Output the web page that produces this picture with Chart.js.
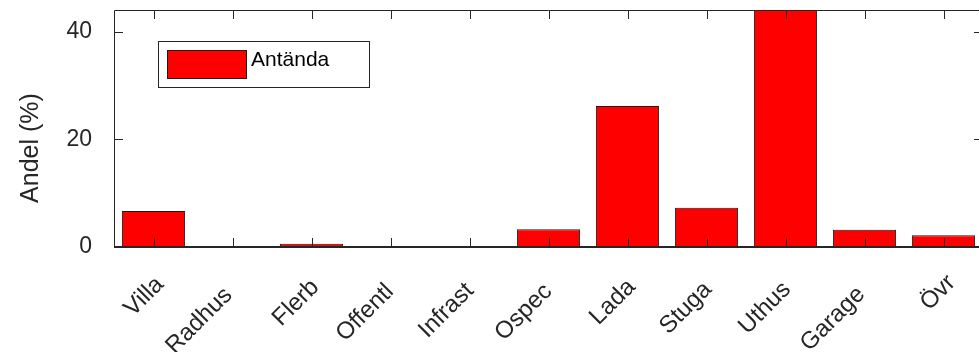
<!DOCTYPE html>
<html>
<head>
<meta charset="utf-8">
<script src="https://cdn.jsdelivr.net/npm/chart.js@4/dist/chart.umd.min.js"></script>
<style>
  html, body { margin: 0; padding: 0; background: #fff; overflow: hidden; }
  #wrap { width: 979px; height: 352px; overflow: hidden; }
</style>
</head>
<body>
<div id="wrap"><canvas id="myChart" width="990" height="352"></canvas></div>
<script>
var categories = ["Villa", "Radhus", "Flerb", "Offentl", "Infrast", "Ospec", "Lada", "Stuga", "Uthus", "Garage", "Övr"];
var antanda = [6.7, 0, 0.6, 0, 0, 3.3, 26.2, 7.3, 44, 3.2, 2.2];
var yTicks = [0, 20, 40];
var yMax = 44;
var seriesLabel = "Antända";
var yTitle = "Andel (%)";

var axisColor = "#262626";
var fontFamily = "'Liberation Sans', Arial, Helvetica, sans-serif";

// box, inward ticks, rotated category labels, legend and y title
var matlabAxes = {
    id: "matlabAxes",
    afterDatasetsDraw(chart) {
        var ctx = chart.ctx;
        var a = chart.chartArea;
        var xs = chart.scales.x, ys = chart.scales.y;
        var tl = 9;
        ctx.save();
        ctx.strokeStyle = axisColor;
        ctx.lineWidth = 1;
        ctx.beginPath();
        ctx.moveTo(a.left + 0.5, a.bottom);
        ctx.lineTo(a.left + 0.5, a.top + 0.5);
        ctx.lineTo(a.right - 0.5, a.top + 0.5);
        ctx.lineTo(a.right - 0.5, a.bottom);
        // x ticks, bottom and top
        for (var i = 0; i < categories.length; i++) {
            var px = Math.round(xs.getPixelForTick(i)) + 0.5;
            ctx.moveTo(px, a.bottom);
            ctx.lineTo(px, a.bottom - tl);
            ctx.moveTo(px, a.top);
            ctx.lineTo(px, a.top + tl);
        }
        // y ticks, left and right
        yTicks.forEach(function(v) {
            var py = Math.round(ys.getPixelForValue(v)) + 0.5;
            ctx.moveTo(a.left, py);
            ctx.lineTo(a.left + tl, py);
            ctx.moveTo(a.right, py);
            ctx.lineTo(a.right - tl, py);
        });
        ctx.stroke();
        // baseline / bottom axis
        ctx.lineWidth = 2;
        ctx.beginPath();
        ctx.moveTo(a.left, a.bottom);
        ctx.lineTo(a.right, a.bottom);
        ctx.stroke();

        // category labels at 45 deg, longer ones sit a bit lower-left
        ctx.fillStyle = axisColor;
        ctx.font = "24px " + fontFamily;
        ctx.textAlign = "right";
        ctx.textBaseline = "alphabetic";
        chart.data.labels.forEach(function(lab, i) {
            var w = ctx.measureText(lab).width;
            var lx = xs.getPixelForTick(i) + 23.8 - 0.28 * w;
            var ly = a.bottom + 26 + 0.28 * w;
            ctx.save();
            ctx.translate(lx, ly);
            ctx.rotate(-Math.PI / 4);
            ctx.fillText(lab, 0, 0);
            ctx.restore();
        });

        // legend
        var bx = a.left + 44, by = a.top + 31;
        ctx.fillStyle = "#fff";
        ctx.fillRect(bx, by, 211, 46);
        ctx.lineWidth = 1;
        ctx.strokeStyle = axisColor;
        ctx.strokeRect(bx + 0.5, by + 0.5, 211, 46);
        ctx.fillStyle = "#ff0000";
        ctx.fillRect(bx + 9, by + 9, 80, 29);
        ctx.strokeStyle = "#1a1a1a";
        ctx.strokeRect(bx + 9.5, by + 9.5, 79, 28);
        ctx.fillStyle = "#000";
        ctx.font = "21px " + fontFamily;
        ctx.textBaseline = "middle";
        ctx.textAlign = "left";
        ctx.fillText(chart.data.datasets[0].label, bx + 93, by + 19);

        // y axis title
        ctx.fillStyle = axisColor;
        ctx.font = "25px " + fontFamily;
        ctx.textAlign = "center";
        ctx.translate(31, 148);
        ctx.rotate(-Math.PI / 2);
        ctx.fillText(yTitle, 0, 0);
        ctx.restore();
    }
};

var ctx = document.getElementById("myChart").getContext("2d");
var myChart = new Chart(ctx, {
    type: "bar",
    data: {
        labels: categories,
        datasets: [{
            label: seriesLabel,
            data: antanda,
            backgroundColor: "#ff0000",
            borderColor: "#1a1a1a",
            borderWidth: 1,
            borderSkipped: false,
            barPercentage: 0.8,
            categoryPercentage: 1.0
        }]
    },
    options: {
        responsive: false,
        animation: false,
        devicePixelRatio: 1,
        layout: { padding: { top: 10, right: 7, bottom: 0, left: 0 } },
        plugins: {
            legend: { display: false },
            tooltip: { enabled: false }
        },
        scales: {
            x: {
                offset: true,
                grid: { display: false, drawTicks: false },
                border: { display: false },
                ticks: { display: false, autoSkip: false },
                afterFit: function(scale) {
                    scale.height = 105;
                    scale.paddingLeft = 0;
                    scale.paddingRight = 0;
                }
            },
            y: {
                min: 0,
                max: yMax,
                grid: { display: false, drawTicks: false },
                border: { display: false },
                afterBuildTicks: function(scale) {
                    scale.ticks = yTicks.map(function(v) { return { value: v }; });
                },
                ticks: {
                    padding: 22,
                    color: axisColor,
                    font: { size: 23, family: fontFamily }
                },
                afterFit: function(scale) {
                    scale.width = 114;
                    scale.paddingTop = 0;
                    scale.paddingBottom = 0;
                }
            }
        }
    },
    plugins: [matlabAxes]
});
</script>
</body>
</html>
